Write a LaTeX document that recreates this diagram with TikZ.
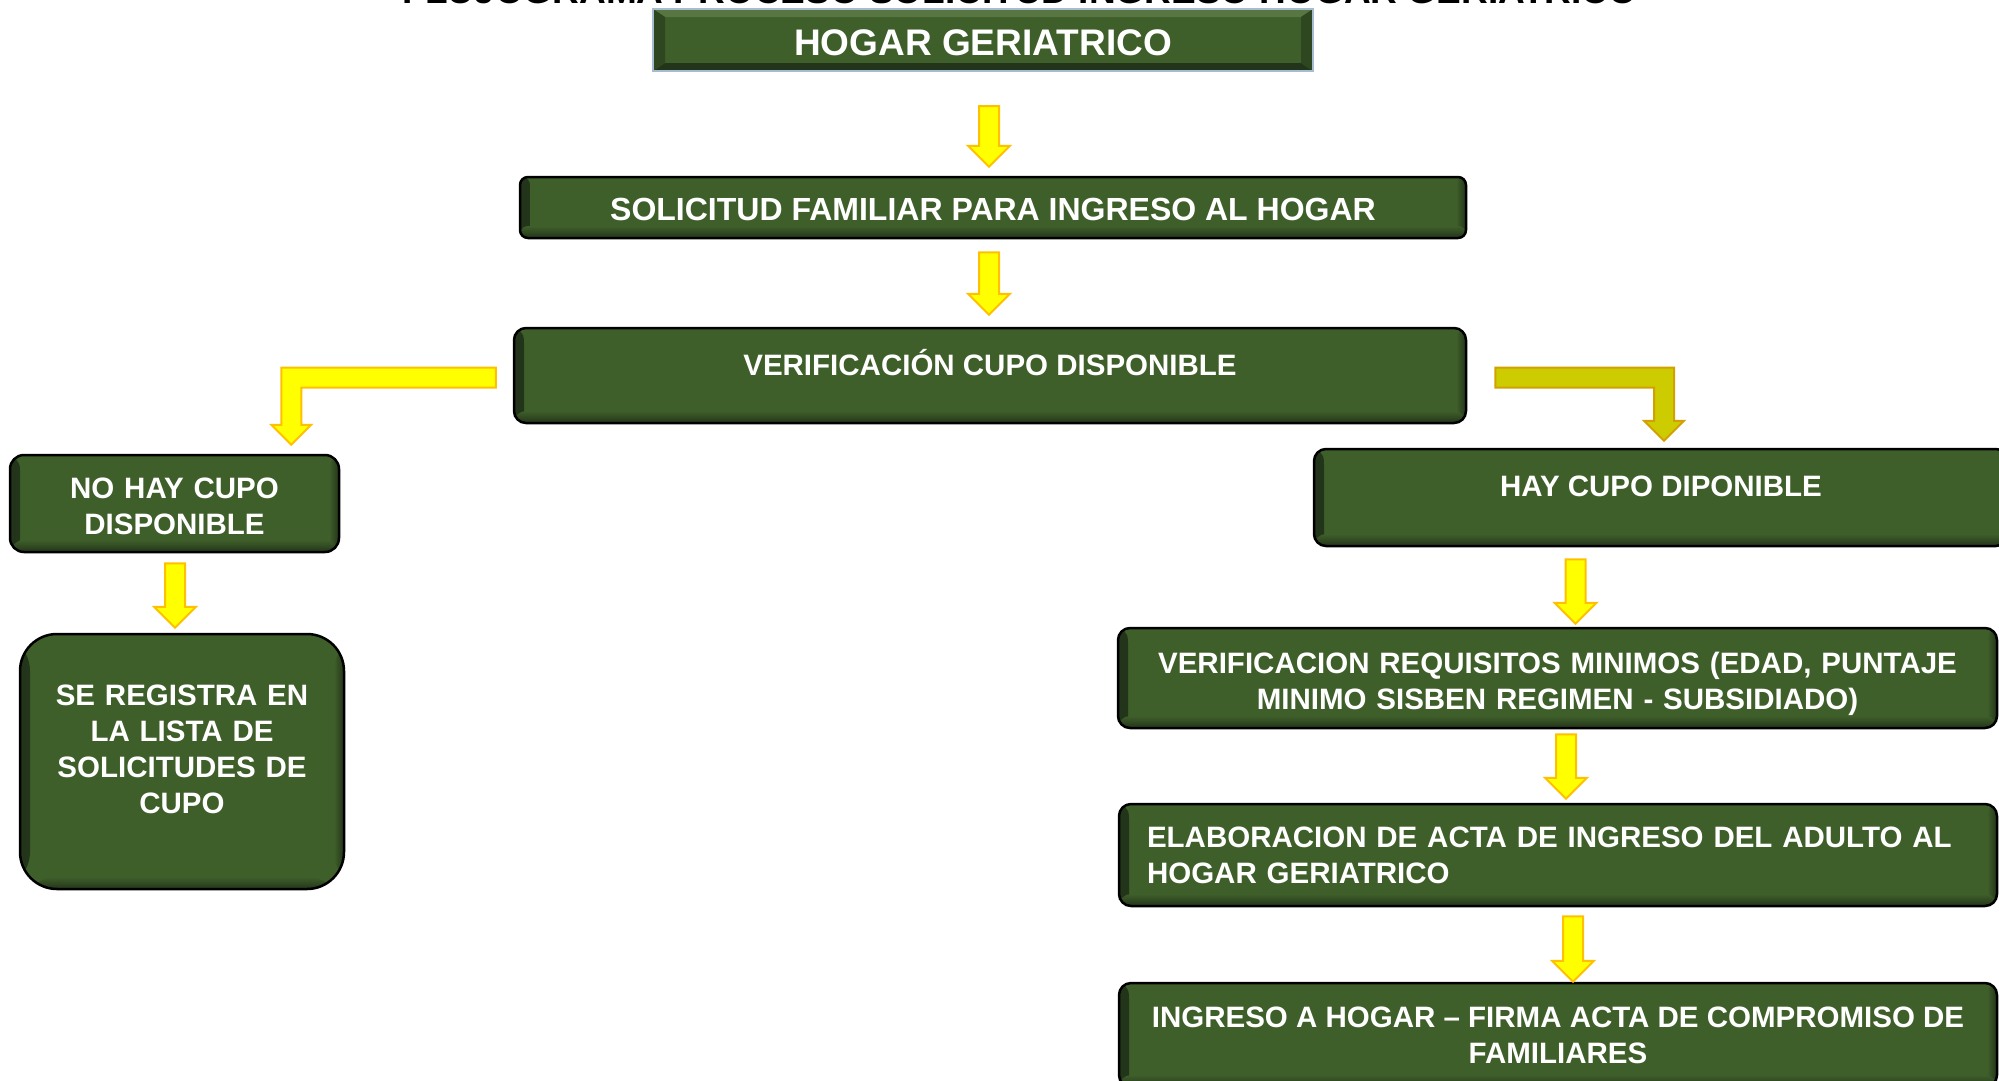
\documentclass[tikz,border=0pt]{standalone}
\usepackage{fontspec}
\setmainfont{Liberation Sans}
\usepackage{tikz}
\usetikzlibrary{calc}
\usepackage{xcolor}
\definecolor{g1}{HTML}{3F5F2A}
\definecolor{g2}{HTML}{7B9965}
\definecolor{g3}{HTML}{22341A}
\definecolor{b1}{HTML}{A7BBD1}
\definecolor{y1}{HTML}{FFFF00}
\definecolor{y2}{HTML}{FFC000}
\definecolor{y3}{HTML}{CCCC00}
\definecolor{y4}{HTML}{D2A000}
\tikzstyle{caja}=[draw=black,line width=2.5pt,fill=g1,text=white,align=center,inner sep=0pt,
  font=\bfseries\fontsize{29.5}{36}\selectfont,
  path picture={
    \shade[left color=g3,right color=g1] (path picture bounding box.south west) rectangle ([xshift=10pt]path picture bounding box.north west);
    \shade[left color=g1,right color=g3] ([xshift=-10pt]path picture bounding box.south east) rectangle (path picture bounding box.north east);
    \shade[top color=g1,bottom color=g3] ([yshift=12pt]path picture bounding box.south west) rectangle (path picture bounding box.south east);
    \shade[left color=g1,middle color=g2,right color=g1] ([xshift=10pt,yshift=-7pt]path picture bounding box.north west) rectangle ([xshift=-10pt,yshift=-12pt]path picture bounding box.north east);
  }]
\tikzstyle{cabeza}=[draw=b1,line width=2pt,fill=g1,text=white,inner sep=0pt,
  font=\bfseries\fontsize{37}{44}\selectfont,
  path picture={
    \fill[g1!60!g2] (path picture bounding box.north west) -- (path picture bounding box.north east) -- ([xshift=-12pt,yshift=-8pt]path picture bounding box.north east) -- ([xshift=12pt,yshift=-8pt]path picture bounding box.north west) -- cycle;
    \fill[g3] (path picture bounding box.south west) -- (path picture bounding box.south east) -- ([xshift=-12pt,yshift=8pt]path picture bounding box.south east) -- ([xshift=12pt,yshift=8pt]path picture bounding box.south west) -- cycle;
    \fill[g1!75!black] (path picture bounding box.north west) -- ([xshift=12pt,yshift=-8pt]path picture bounding box.north west) -- ([xshift=12pt,yshift=8pt]path picture bounding box.south west) -- (path picture bounding box.south west) -- cycle;
    \fill[g1!75!black] (path picture bounding box.north east) -- ([xshift=-12pt,yshift=-8pt]path picture bounding box.north east) -- ([xshift=-12pt,yshift=8pt]path picture bounding box.south east) -- (path picture bounding box.south east) -- cycle;
  }]
\tikzstyle{flecha}=[fill=y1,draw=y2,line width=2pt]
\tikzstyle{flecha2}=[fill=y3,draw=y4,line width=2pt]
\newcommand\flecha[3][flecha]{%
  \path[#1] let \p1=#2, \p2=#3 in
    (\x2-10pt,\y1) -- (\x2+10pt,\y1) -- (\x2+10pt,\y2+21pt) -- (\x2+21pt,\y2+21pt)
    -- (\x2,\y2) -- (\x2-21pt,\y2+21pt) -- (\x2-10pt,\y2+21pt) -- cycle;}
\newcommand\flechaL[4][flecha]{%
  \path[#1] let \p1=#3, \p2=#4 in
    (\x1,\y1+10pt) -- ({\x2+(#2)*10pt},\y1+10pt) -- ({\x2+(#2)*10pt},\y2+20pt)
    -- ({\x2+(#2)*20pt},\y2+20pt) -- (\x2,\y2) -- ({\x2-(#2)*20pt},\y2+20pt)
    -- ({\x2-(#2)*10pt},\y2+20pt) -- ({\x2-(#2)*10pt},\y1-10pt) -- (\x1,\y1-10pt) -- cycle;}

\begin{document}
\begin{tikzpicture}[x=1pt,y=-1pt]
  \useasboundingbox (0,0) rectangle (1999,1080);
  \clip (0,0) rectangle (1999,1080);
  \node[font=\bfseries\fontsize{37}{44}\selectfont,anchor=base] (titulo) at (1020,3)
    {FLUJOGRAMA PROCESO SOLICITUD INGRESO HOGAR GERIATRICO};
  \node[cabeza,minimum width=660pt,minimum height=62pt,text height=30.5pt,text depth=0pt] (hogar) at (983,40)
    {HOGAR GERIATRICO};
  \node[caja,minimum width=946pt,minimum height=61pt,rounded corners=8pt,
    font=\bfseries\fontsize{32}{38}\selectfont,text height=25.9pt,text depth=0pt] (solic) at (993,207.5)
    {SOLICITUD FAMILIAR PARA INGRESO AL HOGAR};
  \node[caja,minimum width=952pt,minimum height=95pt,rounded corners=12pt,
    text height=22pt,text depth=22.6pt] (verif) at (990,375.5) {VERIFICACIÓN CUPO DISPONIBLE};
  \node[caja,minimum width=329pt,minimum height=97pt,rounded corners=14pt,
    text width=300pt,text height=22pt,text depth=31.9pt] (nohay) at (174.5,503.5)
    {NO HAY CUPO\\DISPONIBLE};
  \node[caja,minimum width=324pt,minimum height=255pt,rounded corners=37pt,
    text width=300pt,text height=22pt,text depth=133.6pt] (reg) at (182,761.5)
    {SE REGISTRA EN\\LA LISTA DE\\SOLICITUDES DE\\CUPO};
  \node[caja,minimum width=694pt,minimum height=97pt,rounded corners=12pt,
    text height=22pt,text depth=23.6pt] (hay) at (1661,497.5) {HAY CUPO DIPONIBLE};
  \node[caja,minimum width=879pt,minimum height=100pt,rounded corners=12pt,
    text width=850pt,text height=22pt,text depth=30.9pt] (req) at (1557.5,678)
    {VERIFICACION REQUISITOS MINIMOS (EDAD, PUNTAJE\\MINIMO SISBEN REGIMEN - SUBSIDIADO)};
  \node[caja,minimum width=878pt,minimum height=102pt,rounded corners=12pt,
    text width=822pt,align=left] (elab) at (1558,855)
    {ELABORACION DE ACTA DE INGRESO DEL ADULTO AL\\HOGAR GERIATRICO};
  \node[caja,minimum width=878pt,minimum height=104pt,rounded corners=12pt] (ingr) at (1558,1035)
    {INGRESO A HOGAR – FIRMA ACTA DE COMPROMISO DE\\FAMILIARES};
  \flecha{($(hogar.south)+(0,34)$)}{($(solic.north)+(-4,-9)$)}
  \flecha{($(solic.south)+(0,13)$)}{($(verif.north)+(-1,-12)$)}
  \flechaL{-1}{($(verif.west)+(-17,2)$)}{($(nohay.north east)+(-49,-9)$)}
  \flechaL[flecha2]{1}{($(verif.east)+(28,2)$)}{($(hay.north)+(3,-7)$)}
  \flecha{($(nohay.south)+(0,10)$)}{($(reg.north)+(-7,-5)$)}
  \flecha{($(hay.south)+(0,12)$)}{($(req.north)+(18,-3)$)}
  \flecha{($(req.south)+(0,5)$)}{($(elab.north)+(8,-4)$)}
  \flecha{($(elab.south)+(0,9)$)}{($(ingr.north)+(15,0)$)}
\end{tikzpicture}
\end{document}
